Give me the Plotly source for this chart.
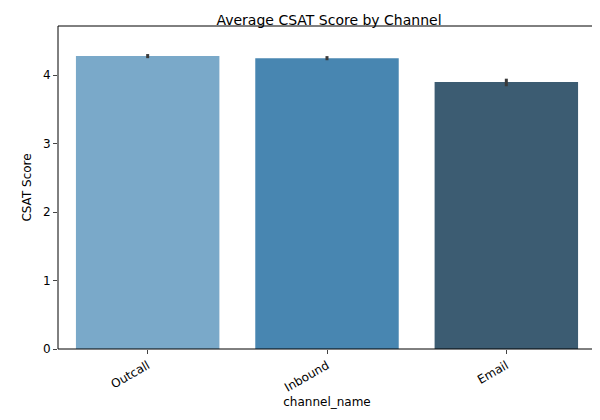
import plotly.graph_objects as go

channels = ["Outcall", "Inbound", "Email"]
csat_mean = [4.28, 4.25, 3.90]
err_plus = [0.03, 0.03, 0.05]
err_minus = [0.03, 0.03, 0.06]
bar_colors = ["#7aa9c9", "#4886b1", "#3c5c72"]

fig = go.Figure(go.Bar(
    x=channels, y=csat_mean,
    marker=dict(color=bar_colors, line=dict(width=0)),
    width=0.8,
    error_y=dict(type="data", symmetric=False, array=err_plus, arrayminus=err_minus,
                 color="#3a3a3a", thickness=3, width=0),
))

fig.update_layout(
    width=600, height=420,
    margin=dict(l=50, r=12, t=18, b=79, autoexpand=False),
    paper_bgcolor="white", plot_bgcolor="white",
    font=dict(family="DejaVu Sans", size=12, color="black"),
    title=dict(text="Average CSAT Score by Channel", x=0.535, xanchor="center",
               y=0.972, yanchor="middle",
               font=dict(family="DejaVu Sans", size=14, color="black")),
    showlegend=False,
    shapes=[dict(type="rect", xref="paper", yref="paper", x0=0, x1=1, y0=0, y1=1,
                 line=dict(color="black", width=1), layer="above")],
)
fig.update_xaxes(title=dict(text="channel_name", standoff=2, font=dict(size=12)),
                 tickangle=-30, tickfont=dict(size=12), automargin=False,
                 ticks="outside", ticklen=4, range=[-0.5, 2.5])
fig.update_yaxes(title=dict(text="CSAT Score", standoff=8, font=dict(size=12)),
                 tickfont=dict(size=12), automargin=False, range=[0, 4.72], dtick=1,
                 showgrid=False, zeroline=False, ticks="outside", ticklen=4)

fig.write_html("out.html")
